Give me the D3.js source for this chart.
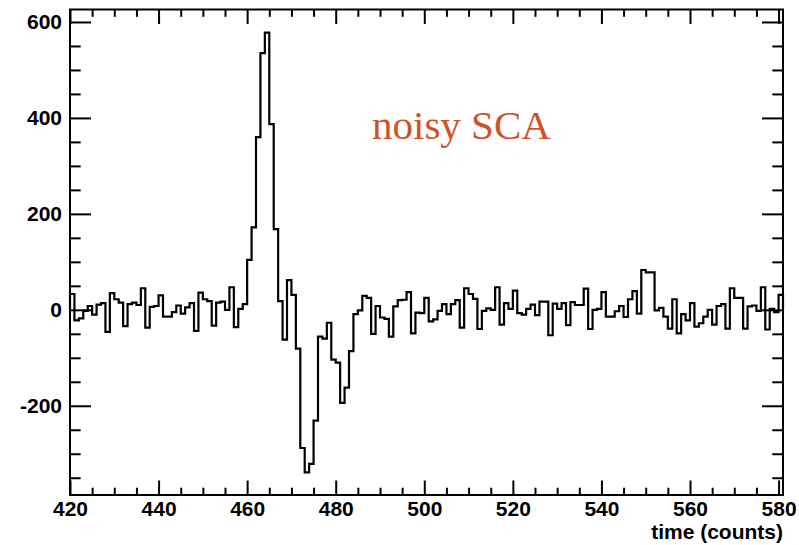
<!DOCTYPE html>
<html>
<head>
<meta charset="utf-8">
<script src="https://cdn.jsdelivr.net/npm/d3@7"></script>
<style>
  html, body { margin: 0; padding: 0; background: #fff; }
  svg { display: block; }
  .tick text { font-family: "Liberation Sans", Arial, Helvetica, sans-serif; font-weight: bold; }
</style>
</head>
<body>
<svg id="chart" width="799" height="545"></svg>
<script>
// Histogram: one bin per time count, starting at firstBin
const firstBin = 420;
const lastEdge = 581;
const counts = [
   33, -22, -18,  -2,   8, -10,  11,  14, -46,  35,   // 420-429
   22,  15, -34,  12,  15,  10,  45, -37,   6,   8,   // 430-439
   30, -14, -14,  -5,   9,  -8,   5,  14, -44,  36,   // 440-449
   22,  18, -33,  15,  17,   0,  47, -36,   2,  12,   // 450-459
  104, 172, 360, 535, 578, 387, 168,  18, -62,  62,   // 460-469
   31, -81,-288,-339,-321,-231, -56, -60, -27,-104,   // 470-479
 -110,-194,-162, -86,  -9,  -1,  29,  25, -50,   8,   // 480-489
  -16, -19, -56,   7,  20,  21,  37, -49,  -6,  -7,   // 490-499
   25, -24, -20,  -2,  12,  -9,  12,  20, -37,  45,   // 500-509
   33,  23, -40,  -2,   3,   0,  47, -31,  14,   2,   // 510-519
   40,  -7, -10,   2,  11, -11,  17,  17, -53,  13,   // 520-529
    2,  14, -32,  16,  10,  10,  44, -40,   0,   2,   // 530-539
   37, -14, -14,  -3,   8, -15,  22,  39,  -8,  83,   // 540-549
   78,  78,  -1,   4, -14, -39,  22, -49,  -9, -22,   // 550-559
   14, -35, -28, -14,   0, -31,   8,  12, -39,  45,   // 560-569
   25,  25, -39,   7,   9,  -2,  47, -41,   2,  -5,   // 570-579
   31                                                 // 580
];

const xMajor = [420, 440, 460, 480, 500, 520, 540, 560, 580];
const xMinor = [425, 430, 435, 445, 450, 455, 465, 470, 475, 485, 490, 495,
                505, 510, 515, 525, 530, 535, 545, 550, 555, 565, 570, 575];
const yMajor = [-200, 0, 200, 400, 600];
const yMinor = [-350, -300, -250, -150, -100, -50, 50, 100, 150, 250, 300, 350, 450, 500, 550];
const xTitle = "time (counts)";
const note = "noisy SCA";

const frame = { left: 70, right: 783, top: 9.5, bottom: 495 };
const svg = d3.select("#chart");

const x = d3.scaleLinear().domain([firstBin, lastEdge]).range([frame.left, frame.right]);
const y = d3.scaleLinear().domain([-386, 626]).range([frame.bottom, frame.top]);

const label = d => String(d);

function styleAxis(g) {
  g.select(".domain").remove();
  g.selectAll(".tick line").attr("stroke", "#000").attr("stroke-width", 2);
  g.selectAll(".tick text").attr("fill", "#000").style("font-size", "21px");
}

// bottom axis with labels
svg.append("g").attr("transform", `translate(0,${frame.bottom})`)
  .call(d3.axisBottom(x).tickValues(xMajor).tickSize(-14.5).tickPadding(6).tickFormat(label))
  .call(styleAxis);
svg.append("g").attr("transform", `translate(0,${frame.bottom})`)
  .call(d3.axisBottom(x).tickValues(xMinor).tickSize(-7.3).tickFormat(""))
  .call(styleAxis);
// top ticks
svg.append("g").attr("transform", `translate(0,${frame.top})`)
  .call(d3.axisTop(x).tickValues(xMajor).tickSize(-14.5).tickFormat(""))
  .call(styleAxis);
svg.append("g").attr("transform", `translate(0,${frame.top})`)
  .call(d3.axisTop(x).tickValues(xMinor).tickSize(-7.3).tickFormat(""))
  .call(styleAxis);
// left axis with labels
svg.append("g").attr("transform", `translate(${frame.left},0)`)
  .call(d3.axisLeft(y).tickValues(yMajor).tickSize(-21).tickPadding(8).tickFormat(label))
  .call(styleAxis);
svg.append("g").attr("transform", `translate(${frame.left},0)`)
  .call(d3.axisLeft(y).tickValues(yMinor).tickSize(-10.7).tickFormat(""))
  .call(styleAxis);
// right ticks
svg.append("g").attr("transform", `translate(${frame.right},0)`)
  .call(d3.axisRight(y).tickValues(yMajor).tickSize(-21).tickFormat(""))
  .call(styleAxis);
svg.append("g").attr("transform", `translate(${frame.right},0)`)
  .call(d3.axisRight(y).tickValues(yMinor).tickSize(-10.7).tickFormat(""))
  .call(styleAxis);

// histogram outline as a step line
const pts = [[firstBin, 0]];
counts.forEach((c, i) => {
  pts.push([firstBin + i, c]);
  pts.push([firstBin + i + 1, c]);
});
pts.push([firstBin + counts.length, 0]);
svg.append("path")
  .datum(pts)
  .attr("fill", "none")
  .attr("stroke", "#000")
  .attr("stroke-width", 2.2)
  .attr("stroke-linejoin", "miter")
  .attr("d", d3.line().x(d => x(d[0])).y(d => y(d[1])));

// frame
svg.append("rect")
  .attr("x", frame.left).attr("y", frame.top)
  .attr("width", frame.right - frame.left).attr("height", frame.bottom - frame.top)
  .attr("fill", "none").attr("stroke", "#000").attr("stroke-width", 2);

// axis title
svg.append("text")
  .attr("x", frame.right).attr("y", 539)
  .attr("text-anchor", "end")
  .style("font-family", "'Liberation Sans', Arial, Helvetica, sans-serif")
  .style("font-weight", "bold").style("font-size", "21px")
  .text(xTitle);

// annotation
svg.append("text")
  .attr("x", 372).attr("y", 139)
  .style("font-family", "'Liberation Serif', 'Times New Roman', serif")
  .style("font-size", "41px")
  .attr("fill", "#cf5227")
  .text(note);
</script>
</body>
</html>
